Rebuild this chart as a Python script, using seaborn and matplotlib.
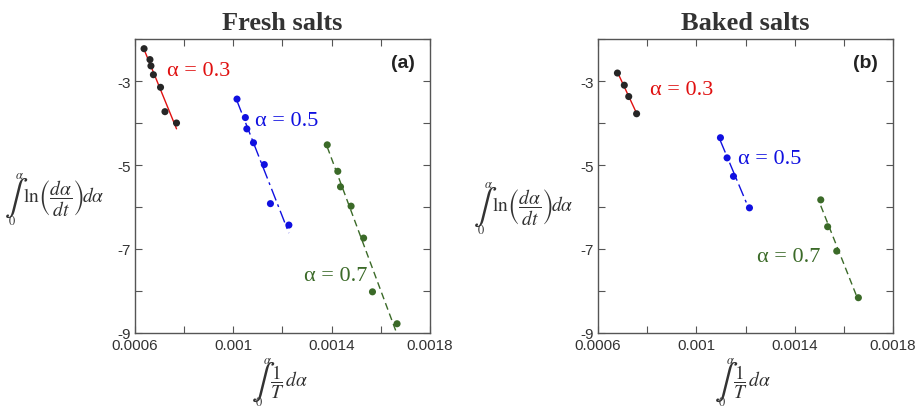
import matplotlib
matplotlib.use("Agg")
import numpy as np
import pandas as pd
import matplotlib.pyplot as plt
import matplotlib.transforms as mtransforms
import seaborn as sns

# ---------------- data ----------------
panel_titles = ["Fresh salts", "Baked salts"]
panel_tags = ["(a)", "(b)"]
alpha_levels = ["0.3", "0.5", "0.7"]

fresh_x_03 = [0.000637, 0.000661, 0.000665, 0.000675, 0.000704, 0.000722, 0.000769]
fresh_y_03 = [-2.23, -2.49, -2.64, -2.85, -3.15, -3.73, -4.00]
fresh_x_05 = [0.001015, 0.001049, 0.001055, 0.001082, 0.001126, 0.001151, 0.001226]
fresh_y_05 = [-3.43, -3.87, -4.14, -4.47, -4.99, -5.92, -6.43]
fresh_x_07 = [0.001382, 0.001425, 0.001436, 0.001479, 0.001530, 0.001566, 0.001666]
fresh_y_07 = [-4.52, -5.15, -5.52, -5.98, -6.74, -8.02, -8.78]

baked_x_03 = [0.000679, 0.000707, 0.000725, 0.000757]
baked_y_03 = [-2.81, -3.10, -3.37, -3.78]
baked_x_05 = [0.001098, 0.001125, 0.001151, 0.001216]
baked_y_05 = [-4.35, -4.83, -5.27, -6.02]
baked_x_07 = [0.001506, 0.001534, 0.001571, 0.001659]
baked_y_07 = [-5.83, -6.47, -7.05, -8.16]

x_ticks = [0.0006, 0.0008, 0.0010, 0.0012, 0.0014, 0.0016, 0.0018]
x_tick_labels = ["0.0006", "", "0.001", "", "0.0014", "", "0.0018"]
y_ticks = [-9, -8, -7, -6, -5, -4, -3, -2]
y_tick_labels = ["-9", "", "-7", "", "-5", "", "-3", ""]

# ---------------- style ----------------
sns.set_style("ticks")
plt.rcParams["font.family"] = ["Liberation Sans", "DejaVu Sans"]
plt.rcParams["mathtext.fontset"] = "stix"

point_colors = ["#262626", "#1010e0", "#3b6a28"]
line_colors = ["#e01010", "#1010e0", "#3b6a28"]
text_colors = ["#e01010", "#1010e0", "#3b6a28"]
line_styles = ["-", (0, (9, 3, 2, 3)), (0, (5, 3))]

series = [
    [(fresh_x_03, fresh_y_03), (fresh_x_05, fresh_y_05), (fresh_x_07, fresh_y_07)],
    [(baked_x_03, baked_y_03), (baked_x_05, baked_y_05), (baked_x_07, baked_y_07)],
]
label_pos = [
    [(0.000730, -2.75), (0.001088, -3.93), (0.001287, -7.63)],
    [(0.000810, -3.21), (0.001170, -4.85), (0.001248, -7.17)],
]
# anchor (left edge of the text after the integral sign), axes fraction
ylabel_anchor = [(-0.380, 0.46), (-0.360, 0.43)]
xlabel_anchor = (0.458, -0.165)

ylab_rest = r"$\ln\!\left(\dfrac{d\alpha}{dt}\right)\!d\alpha$"
xlab_rest = r"$\dfrac{1}{T}\,d\alpha$"

fig = plt.figure(figsize=(9.2, 4.1), dpi=100)
axes = [fig.add_axes([0.1467, 0.1854, 0.3207, 0.717]),
        fig.add_axes([0.6500, 0.1854, 0.3207, 0.717])]

TXT = "#333333"


def integral_label(ax, x, y, rest, fs, dint=-7, dup=(-3, 23), ddown=(-11, -23)):
    def off(dx, dy):
        return mtransforms.offset_copy(ax.transAxes, fig=fig, x=dx, y=dy, units="dots")
    ax.text(x, y, rest, transform=ax.transAxes, ha="left", va="center",
            fontsize=fs, color=TXT)
    ax.text(x, y, r"$\int$", transform=off(dint, 0), ha="center", va="center",
            fontsize=25, color=TXT)
    ax.text(x, y, r"$\alpha$", transform=off(*dup), ha="center", va="center",
            fontsize=9, color=TXT)
    ax.text(x, y, r"$0$", transform=off(*ddown), ha="center", va="center",
            fontsize=9, color=TXT)


for p, ax in enumerate(axes):
    for k in range(3):
        xs, ys = series[p][k]
        df = pd.DataFrame({"x": xs, "y": ys})
        sns.regplot(data=df, x="x", y="y", ax=ax, scatter=False, ci=None,
                    truncate=True,
                    line_kws=dict(color=line_colors[k], lw=1.0, ls=line_styles[k]))
        sns.scatterplot(data=df, x="x", y="y", ax=ax, color=point_colors[k],
                        s=26, edgecolor="none", zorder=3)
        lx, ly = label_pos[p][k]
        ax.text(lx, ly, "\u03b1 = " + alpha_levels[k], color=text_colors[k],
                fontsize=16, family="Liberation Serif", va="center", ha="left")

    ax.set_xlim(0.0006, 0.0018)
    ax.set_ylim(-9, -2)
    ax.set_xticks(x_ticks)
    ax.set_xticklabels(x_tick_labels)
    ax.set_yticks(y_ticks)
    ax.set_yticklabels(y_tick_labels)
    ax.tick_params(direction="in", top=True, right=True, length=5, width=0.8,
                   colors="#555555", labelcolor=TXT, labelsize=11)
    ax.tick_params(axis="x", pad=3.5)
    ax.tick_params(axis="y", pad=3)
    for s in ax.spines.values():
        s.set_visible(True)
        s.set_color("#555555")
        s.set_linewidth(1.0)

    ax.set_title(panel_titles[p], fontsize=19, fontweight="bold",
                 family="Liberation Serif", color=TXT, pad=7)
    ax.text(0.95, 0.92, panel_tags[p], transform=ax.transAxes, fontsize=14,
            fontweight="bold", ha="right", va="center", color="#222222")

    ax.set_xlabel("")
    ax.set_ylabel("")
    integral_label(ax, *ylabel_anchor[p], ylab_rest, 14)
    integral_label(ax, *xlabel_anchor, xlab_rest, 14,
                   dint=-7, dup=(-3, 21), ddown=(-11, -20))

fig.savefig("out.png", dpi=100)
